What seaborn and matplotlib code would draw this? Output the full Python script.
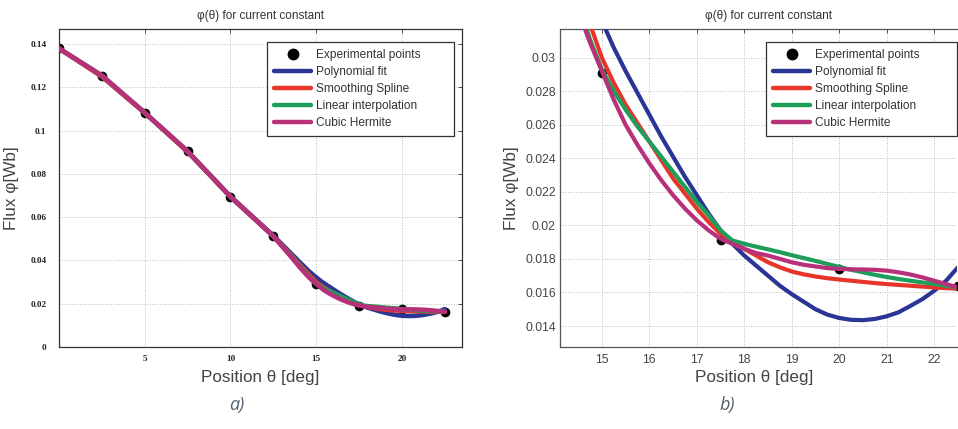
import numpy as np
import pandas as pd
import matplotlib
matplotlib.use("Agg")
import matplotlib.pyplot as plt
from matplotlib.lines import Line2D
import seaborn as sns

# ---------------- data ----------------
theta_pts = [0, 2.5, 5, 7.5, 10, 12.5, 15, 17.5, 20, 22.5]
flux_pts = [0.1380, 0.1255, 0.1083, 0.0905, 0.0694, 0.0512, 0.0291, 0.0191, 0.01737, 0.0164]

theta_curve = [0, 2.5, 5, 7.5, 10, 12.5, 13.5, 14, 14.5, 14.75, 15, 15.25, 15.5, 15.75,
               16, 16.25, 16.5, 16.75, 17, 17.25, 17.5, 17.75, 18, 18.25, 18.5, 18.75,
               19, 19.25, 19.5, 19.75, 20, 20.25, 20.5, 20.75, 21, 21.25, 21.5, 21.75,
               22, 22.25, 22.5]
poly_fit = [0.1380, 0.1252, 0.1083, 0.0903, 0.0696, 0.0515, 0.0435, 0.0395,
            0.0356, 0.0338, 0.0322, 0.0306, 0.0292, 0.0279, 0.0266, 0.0253, 0.0241,
            0.0229, 0.0218, 0.0207, 0.0197, 0.0189, 0.0182, 0.0176, 0.0170, 0.0164,
            0.0159, 0.01545, 0.0150, 0.01468, 0.01448, 0.01437, 0.01435, 0.01442,
            0.01458, 0.01482, 0.0152, 0.0156, 0.0161, 0.0167, 0.0175]
smooth_spline = [0.1380, 0.1250, 0.1082, 0.0902, 0.0695, 0.0512, 0.0428, 0.0384,
                 0.0341, 0.0320, 0.0300, 0.0285, 0.0272, 0.0261, 0.0250, 0.0239, 0.0228,
                 0.0219, 0.0210, 0.0202, 0.0195, 0.0190, 0.0186, 0.0182, 0.0178, 0.0175,
                 0.01725, 0.01708, 0.01695, 0.01685, 0.01677, 0.01670, 0.01663, 0.01656,
                 0.0165, 0.01645, 0.0164, 0.01635, 0.0163, 0.01626, 0.01622]
linear_interp = [0.1380, 0.1255, 0.1083, 0.0905, 0.0694, 0.0512, 0.0424, 0.0378,
                 0.0332, 0.0311, 0.0293, 0.0280, 0.0269, 0.0259, 0.0250, 0.0241, 0.0232,
                 0.0223, 0.0214, 0.0206, 0.0197, 0.0191, 0.0189, 0.01873, 0.01857, 0.0184,
                 0.01822, 0.01805, 0.01788, 0.0177, 0.01752, 0.01735, 0.0172, 0.01705,
                 0.01692, 0.0168, 0.0167, 0.0166, 0.01651, 0.0164, 0.0163]
cubic_hermite = [0.1380, 0.1255, 0.1083, 0.0905, 0.0694, 0.0512, 0.0420, 0.0372,
                 0.0328, 0.0309, 0.0292, 0.0275, 0.0260, 0.0248, 0.0237, 0.0227, 0.0218,
                 0.0210, 0.0203, 0.0197, 0.0192, 0.0189, 0.0186, 0.01835, 0.0182, 0.0180,
                 0.0178, 0.01765, 0.01755, 0.01745, 0.0174, 0.01738, 0.01737, 0.01735,
                 0.0173, 0.0172, 0.01707, 0.0169, 0.0167, 0.0165, 0.0163]

methods = ["Polynomial fit", "Smoothing Spline", "Linear interpolation", "Cubic Hermite"]
colors = ["#2b3596", "#e8352a", "#1e9e5a", "#b8307a"]

xticks_a = [5, 10, 15, 20]
yticks_a = [0, 0.02, 0.04, 0.06, 0.08, 0.1, 0.12, 0.14]
ytick_labels_a = ["0", "0.02", "0.04", "0.06", "0.08", "0.1", "0.12", "0.14"]
xticks_b = [15, 16, 17, 18, 19, 20, 21, 22]
yticks_b = [0.014, 0.016, 0.018, 0.02, 0.022, 0.024, 0.026, 0.028, 0.03]
ytick_labels_b = ["0.014", "0.016", "0.018", "0.02", "0.022", "0.024", "0.026", "0.028", "0.03"]

title = "φ(θ) for current constant"
xlabel = "Position θ [deg]"
ylabel = "Flux φ[Wb]"

# ---------------- tables ----------------
curves = pd.DataFrame({
    "theta": theta_curve * 4,
    "flux": poly_fit + smooth_spline + linear_interp + cubic_hermite,
    "method": sum([[m] * len(theta_curve) for m in methods], []),
})
points = pd.DataFrame({"theta": theta_pts, "flux": flux_pts})

sns.set_style("white")
plt.rcParams["font.family"] = ["Liberation Sans", "DejaVu Sans"]

W, H = 958, 429
fig = plt.figure(figsize=(W / 100, H / 100), dpi=100)
ax1 = fig.add_axes([59 / W, 82 / H, 403 / W, 318 / H])
ax2 = fig.add_axes([560 / W, 82 / H, 397 / W, 318 / H])

palette = dict(zip(methods, colors))


def draw(ax, lw, ms):
    sns.scatterplot(data=points, x="theta", y="flux", color="black", s=ms,
                    edgecolor="black", linewidth=0.5, ax=ax, legend=False, zorder=2)
    sns.lineplot(data=curves, x="theta", y="flux", hue="method", hue_order=methods,
                 palette=palette, lw=lw, sort=False, estimator=None, ax=ax,
                 legend=False, zorder=3)
    for ln in ax.lines:
        ln.set_solid_capstyle("round")
        ln.set_solid_joinstyle("round")
    ax.grid(True, ls=":", color="#bdbdbd", lw=0.7)
    ax.tick_params(direction="in", length=3, width=0.6, colors="#333333")
    handles = [Line2D([], [], marker="o", ls="none", color="black", ms=7.5)]
    handles += [Line2D([], [], color=c, lw=3.2) for c in colors]
    labels = ["Experimental points"] + methods
    return handles, labels


def legend(ax, h, l, x0, width):
    leg = ax.legend(h, l, loc="upper left", bbox_to_anchor=(x0, 0.667, width, 0.292),
                    mode="expand", borderaxespad=0, fontsize=8.6, handlelength=3.1,
                    handletextpad=0.42, labelspacing=0.42, borderpad=0.6,
                    fancybox=False, framealpha=1, edgecolor="#333333")
    leg.get_frame().set_linewidth(0.9)
    for t in leg.get_texts():
        t.set_color("#333333")


# ---- panel a ----
h, l = draw(ax1, 3.3, 42)
ax1.set_xlim(0, 23.5)
ax1.set_ylim(0, 0.147)
ax1.set_xticks(xticks_a)
ax1.set_xticklabels([str(v) for v in xticks_a])
ax1.set_yticks(yticks_a)
ax1.set_yticklabels(ytick_labels_a)
for lab in ax1.get_xticklabels() + ax1.get_yticklabels():
    lab.set_fontfamily("Liberation Serif")
    lab.set_fontweight("bold")
    lab.set_fontsize(6.6)
    lab.set_color("#222222")
ax1.tick_params(top=True, right=True)
ax1.tick_params(axis="y", pad=9)
ax1.tick_params(axis="x", pad=6)
for s in ax1.spines.values():
    s.set_color("#333333")
    s.set_linewidth(0.9)
ax1.set_title(title, fontsize=8.5, color="#333333", pad=7)
ax1.set_xlabel(xlabel, fontsize=12.3, color="#444444")
ax1.set_ylabel(ylabel, fontsize=12.3, color="#444444")
ax1.xaxis.set_label_coords(0.5, -0.072)
ax1.yaxis.set_label_coords(-0.099, 0.5)
legend(ax1, h, l, 0.516, 0.464)

# ---- panel b ----
h, l = draw(ax2, 3.0, 42)
ax2.set_xlim(14.12, 22.48)
ax2.set_ylim(0.01275, 0.0317)
ax2.set_xticks(xticks_b)
ax2.set_xticklabels([str(v) for v in xticks_b])
ax2.set_yticks(yticks_b)
ax2.set_yticklabels(ytick_labels_b)
for lab in ax2.get_xticklabels() + ax2.get_yticklabels():
    lab.set_fontsize(8.8)
    lab.set_color("#444444")
ax2.tick_params(top=True, right=False)
ax2.tick_params(axis="y", pad=3)
ax2.tick_params(axis="x", pad=5)
ax2.spines["right"].set_visible(False)
for s in ax2.spines.values():
    s.set_color("#555555")
    s.set_linewidth(0.9)
ax2.set_title(title, fontsize=8.5, color="#333333", pad=7, x=0.526)
ax2.set_xlabel(xlabel, fontsize=12.3, color="#444444")
ax2.set_ylabel(ylabel, fontsize=12.3, color="#444444")
ax2.xaxis.set_label_coords(0.489, -0.072)
ax2.yaxis.set_label_coords(-0.103, 0.5)
legend(ax2, h, l, 0.519, 0.481)

fig.text(237 / W, 1 - 405 / H, "a)", fontsize=13, style="italic", color="#556070",
         ha="center", va="center", family=["Open Sans", "DejaVu Sans"])
fig.text(727 / W, 1 - 405 / H, "b)", fontsize=13, style="italic", color="#556070",
         ha="center", va="center", family=["Open Sans", "DejaVu Sans"])

fig.savefig("out.png", dpi=100, facecolor="white")
